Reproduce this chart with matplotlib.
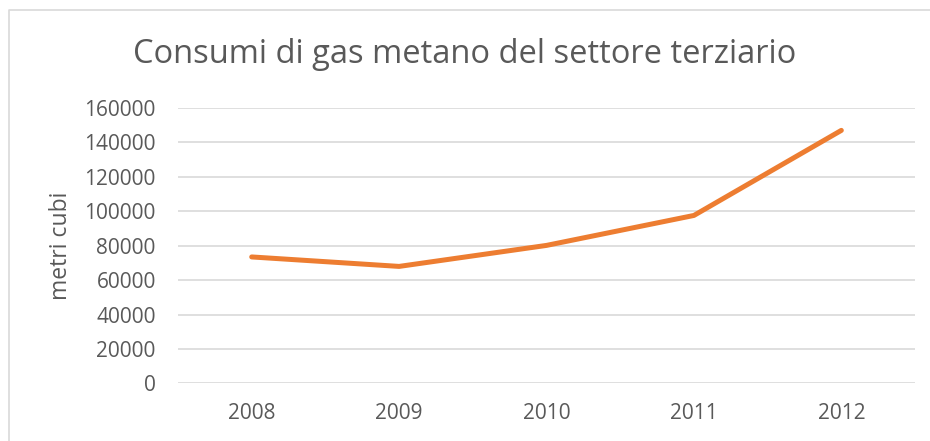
import matplotlib.pyplot as plt
from matplotlib.lines import Line2D

# Consumption data
years = ["2008", "2009", "2010", "2011", "2012"]
consumi = [73500, 68000, 80200, 97600, 147000]
yTicks = [0, 20000, 40000, 60000, 80000, 100000, 120000, 140000, 160000]

textColour = "#595959"
lineColour = "#ED7D31"
gridColour = "#D9D9D9"

plt.rcParams["font.family"] = ["Open Sans", "DejaVu Sans"]

figure = plt.figure(figsize=(9.30, 4.41), dpi=100)
axes = figure.add_axes([0.1914, 0.1304, 0.7925, 0.6247])

# Chart border (only top and left edges are visible in the crop)
bx = 8.5 / 930
by = 1 - 9.5 / 441
figure.lines.append(Line2D([bx, bx, 1.0], [0.0, by, by],
                           transform=figure.transFigure,
                           color=gridColour, linewidth=1.2))

xs = list(range(len(years)))
axes.plot(xs, consumi, color=lineColour, linewidth=3.6,
          solid_capstyle="round", solid_joinstyle="round", clip_on=False,
          zorder=3)

axes.set_xlim(-0.5, len(years) - 0.5)
axes.set_ylim(0, 160000)
axes.set_yticks(yTicks)
axes.set_yticklabels([str(t) for t in yTicks])
axes.set_xticks(xs)
axes.set_xticklabels(years)
axes.grid(axis="y", color=gridColour, linewidth=1.2)
axes.set_axisbelow(True)
for spine in axes.spines.values():
    spine.set_visible(False)
axes.tick_params(axis="both", length=0, labelsize=15, colors=textColour)
axes.tick_params(axis="y", pad=16)
axes.tick_params(axis="x", pad=14)

axes.set_ylabel("metri cubi", fontsize=16.5, color=textColour)
axes.yaxis.set_label_coords(-0.142, 0.5)
figure.text(0.5, 0.877, "Consumi di gas metano del settore terziario",
            ha="center", va="center", fontsize=23.5, color=textColour)

figure.savefig("out.png", dpi=100)
